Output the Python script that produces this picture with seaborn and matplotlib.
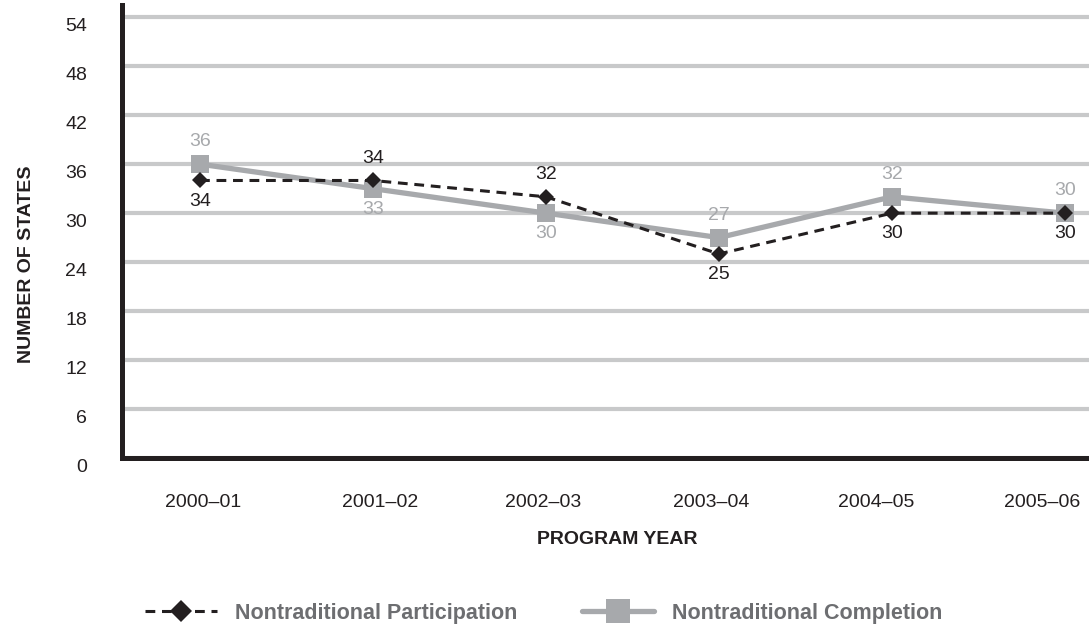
import numpy as np
import pandas as pd
import matplotlib
matplotlib.use("Agg")
import matplotlib.pyplot as plt
import seaborn as sns
from matplotlib.transforms import ScaledTranslation

# ---- data ----
years = ["2000–01", "2001–02", "2002–03", "2003–04", "2004–05", "2005–06"]
participation = [34, 34, 32, 25, 30, 30]
completion = [36, 33, 30, 27, 32, 30]
y_ticks = [0, 6, 12, 18, 24, 30, 36, 42, 48, 54]
part_label_side = ["below", "above", "above", "below", "below", "below"]
comp_label_side = ["above", "below", "below", "above", "above", "above"]
xtick_shift_px = [3, 7, -3, -8, -16, -23]

sns.set_theme(style="white")
plt.rcParams["font.family"] = ["Liberation Sans", "DejaVu Sans"]

DARK = "#231f20"
GRAY = "#a7a9ac"
GRID = "#c8c9ca"

fig = plt.figure(figsize=(10.89, 6.28), dpi=100)
W, H = 1089, 628
ax = fig.add_axes([122 / W, 1 - 458 / H, 1 - 122 / W, (458 - 5) / H])

df = pd.DataFrame({
    "pos": np.arange(len(years)),
    "year": years,
    "participation": participation,
    "completion": completion,
})

sns.lineplot(data=df, x="pos", y="completion", ax=ax, color=GRAY, lw=3.8,
             marker="s", markersize=12.5, markeredgewidth=0,
             label="Nontraditional Completion", zorder=3)
sns.lineplot(data=df, x="pos", y="participation", ax=ax, color=DARK, lw=2.2,
             linestyle=(0, (3.2, 2.2)), marker="D", markersize=8.6,
             markeredgewidth=0, label="Nontraditional Participation", zorder=4)

# value labels
for i, (v, side) in enumerate(zip(completion, comp_label_side)):
    ax.annotate(str(v), (i, v), xytext=(0, 16 if side == "above" else -15),
                textcoords="offset points", ha="center", va="center",
                fontsize=14, color=GRAY, zorder=5)
for i, (v, side) in enumerate(zip(participation, part_label_side)):
    ax.annotate(str(v), (i, v), xytext=(0, 16 if side == "above" else -15),
                textcoords="offset points", ha="center", va="center",
                fontsize=14, color=DARK, zorder=5)

ax.set_xlim(-0.451, 5.139)
ax.set_ylim(0, 55.5)

ax.set_yticks(y_ticks)
ax.set_xticks(df["pos"])
ax.set_xticklabels(years)
ax.tick_params(axis="y", length=0, pad=25, labelsize=14, labelcolor=DARK)
ax.tick_params(axis="x", length=0, pad=26, labelsize=14, labelcolor=DARK)

for lab in ax.get_yticklabels():
    lab.set_transform(lab.get_transform() + ScaledTranslation(0, -7 / 100, fig.dpi_scale_trans))
for lab, s in zip(ax.get_xticklabels(), xtick_shift_px):
    lab.set_transform(lab.get_transform() + ScaledTranslation(s / 100, 0, fig.dpi_scale_trans))

ax.yaxis.grid(True, color=GRID, lw=3)
ax.xaxis.grid(False)
ax.set_axisbelow(True)

for s in ["top", "right"]:
    ax.spines[s].set_visible(False)
for s in ["left", "bottom"]:
    ax.spines[s].set_color(DARK)
    ax.spines[s].set_linewidth(3.6)
    ax.spines[s].set_zorder(6)

ax.set_ylabel("NUMBER OF STATES", fontsize=14, fontweight="bold", color=DARK)
ax.yaxis.set_label_coords(-0.09, 0.428)
ax.set_xlabel("PROGRAM YEAR", fontsize=14, fontweight="bold", color=DARK)
ax.xaxis.set_label_coords(0.512, -0.161)

handles, labels = ax.get_legend_handles_labels()
ax.get_legend().remove()
order = [labels.index("Nontraditional Participation"), labels.index("Nontraditional Completion")]
fig.legend([handles[k] for k in order], [labels[k] for k in order],
           loc="center left", bbox_to_anchor=(145 / W, 1 - 613 / H), ncol=2,
           frameon=False, prop=dict(weight="bold", size=15.5), labelcolor="#6d6e71",
           handlelength=3.35, handletextpad=0.84, columnspacing=3.0,
           borderpad=0, borderaxespad=0, markerscale=1.35)

fig.savefig("out.png", dpi=100)
